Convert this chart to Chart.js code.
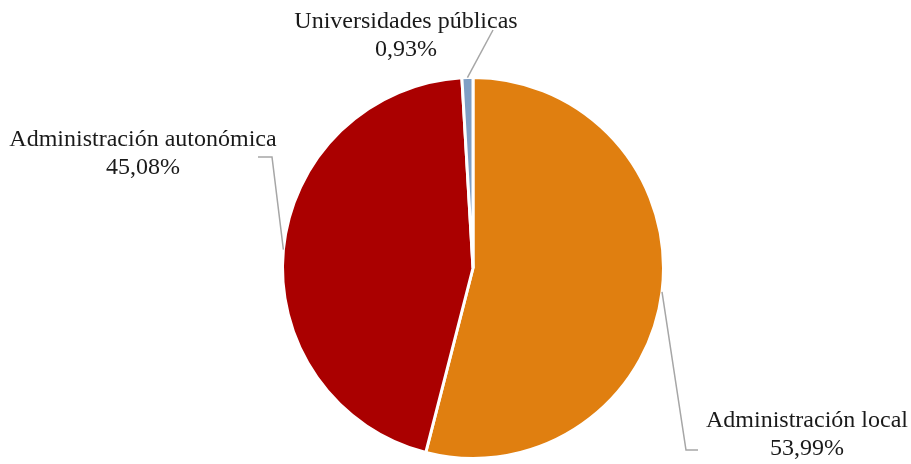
<!DOCTYPE html>
<html>
<head>
<meta charset="utf-8">
<script src="https://cdn.jsdelivr.net/npm/chart.js@4"></script>
<style>
html,body{margin:0;padding:0;background:#fff;}
#wrap{width:911px;height:464px;position:relative;}
</style>
</head>
<body>
<div id="wrap"><canvas id="c"></canvas></div>
<script>
const categories = ["Administración local", "Administración autonómica", "Universidades públicas"];
const values = [53.99, 45.08, 0.93];
const valueLabels = ["53,99%", "45,08%", "0,93%"];
const colors = ["#E07F10", "#AA0000", "#7F9FC5"];

// label layout: text centre (line 1), elbow and end of leader line
const labelLayout = [
  {x: 807, y: 421, elbow: [686, 450], end: [698, 450]},
  {x: 143, y: 140, elbow: [272, 157], end: [258, 157]},
  {x: 406, y: 22, elbow: [493, 30], end: [493, 30]}
];

const leaderPlugin = {
  id: 'leaders',
  afterDraw(chart) {
    const ctx = chart.ctx;
    const meta = chart.getDatasetMeta(0);
    ctx.save();
    meta.data.forEach((arc, i) => {
      const p = arc.getProps(['x','y','startAngle','endAngle','outerRadius'], true);
      const mid = (p.startAngle + p.endAngle) / 2;
      const ax = p.x + Math.cos(mid) * p.outerRadius;
      const ay = p.y + Math.sin(mid) * p.outerRadius;
      const L = labelLayout[i];
      ctx.strokeStyle = '#A6A6A6';
      ctx.lineWidth = 1.5;
      ctx.beginPath();
      ctx.moveTo(ax, ay);
      ctx.lineTo(L.elbow[0], L.elbow[1]);
      ctx.lineTo(L.end[0], L.end[1]);
      ctx.stroke();
      ctx.fillStyle = '#1a1a1a';
      ctx.font = '24px "Liberation Serif", serif';
      ctx.textAlign = 'center';
      ctx.textBaseline = 'middle';
      ctx.fillText(chart.data.labels[i], L.x, L.y);
      ctx.fillText(valueLabels[i], L.x, L.y + 28);
    });
    ctx.restore();
  }
};

new Chart(document.getElementById('c'), {
  type: 'pie',
  data: {
    labels: categories,
    datasets: [{
      data: values,
      backgroundColor: colors,
      borderColor: '#ffffff',
      borderWidth: 3
    }]
  },
  options: {
    responsive: true,
    maintainAspectRatio: false,
    animation: false,
    layout: {padding: {top: 76, bottom: 4, left: 35, right: 0}},
    plugins: {
      legend: {display: false},
      tooltip: {enabled: false}
    }
  },
  plugins: [leaderPlugin]
});
</script>
</body>
</html>
